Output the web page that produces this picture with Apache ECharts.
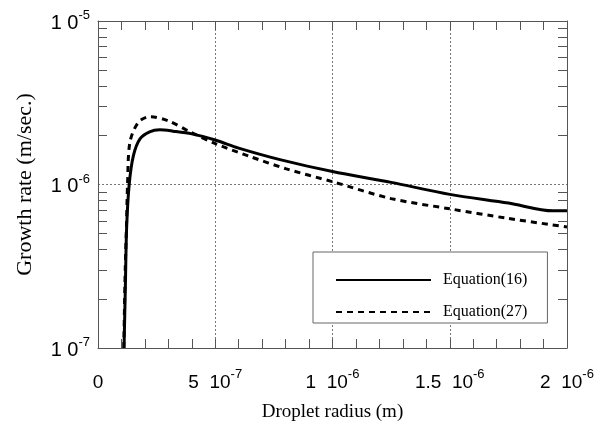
<!DOCTYPE html>
<html>
<head>
<meta charset="utf-8">
<script src="https://cdn.jsdelivr.net/npm/echarts@6/dist/echarts.min.js"></script>
<style>
  html, body { margin: 0; padding: 0; background: #fff; }
  #main { width: 601px; height: 427px; }
</style>
</head>
<body>
<div id="main"></div>
<script>
// droplet radius (m) / growth rate (m/sec.)
const radius16 = [1.11e-7, 1.17e-7, 1.22e-7, 1.33e-7, 1.51e-7, 1.79e-7, 2.2e-7, 2.64e-7, 3.2e-7, 4e-7, 5e-7, 6e-7, 7.76e-7, 1e-6, 1.25e-6, 1.5e-6, 1.75e-6, 1.94e-6, 2e-6];
const rate16 = [1e-7, 2.5e-7, 5.4e-7, 1.0e-6, 1.5e-6, 1.9e-6, 2.1e-6, 2.16e-6, 2.12e-6, 2.04e-6, 1.87e-6, 1.67e-6, 1.42e-6, 1.2e-6, 1.03e-6, 8.7e-7, 7.7e-7, 6.9e-7, 6.9e-7];

const radius27 = [1.1e-7, 1.16e-7, 1.22e-7, 1.26e-7, 1.36e-7, 1.72e-7, 2.22e-7, 3.0e-7, 3.92e-7, 5e-7, 6.5e-7, 8e-7, 1e-6, 1.25e-6, 1.5e-6, 1.75e-6, 2e-6];
const rate27 = [1e-7, 3e-7, 6e-7, 1e-6, 1.81e-6, 2.4e-6, 2.6e-6, 2.45e-6, 2.1e-6, 1.78e-6, 1.48e-6, 1.25e-6, 1.04e-6, 8.2e-7, 7.1e-7, 6.2e-7, 5.5e-7];

const seriesNames = ['Equation(16)', 'Equation(27)'];
const yLabelValues = [1e-7, 1e-6, 1e-5];
const yMinorTicks = [2e-7, 3e-7, 4e-7, 5e-7, 6e-7, 7e-7, 8e-7, 9e-7, 2e-6, 3e-6, 4e-6, 5e-6, 6e-6, 7e-6, 8e-6, 9e-6];

const sans = '"Liberation Sans", Arial, sans-serif';
const serif = '"Liberation Serif", "Times New Roman", serif';

// superscript: bottom padding lifts the exponent above the baseline
function richFor(size) {
  return {
    n: { fontFamily: sans, fontSize: size, color: '#000', verticalAlign: 'bottom' },
    z: { fontFamily: sans, fontSize: size, color: '#000', verticalAlign: 'bottom', padding: [5, 0, 0, 0] },
    s: { fontFamily: sans, fontSize: 13, color: '#000', verticalAlign: 'bottom', padding: [0, 0, 11, 0] }
  };
}

function xLabel(v) {
  if (v === 0) return '{z|0}';
  const e = Math.floor(Math.log10(v) + 1e-9);
  const m = Math.round(v / Math.pow(10, e) * 10) / 10;
  return '{n|' + m + '  10}{s|' + e + '}';
}
function yLabel(v) {
  const e = Math.round(Math.log10(v));
  return '{n|1 0}{s|' + e + '}';
}

const chart = echarts.init(document.getElementById('main'), null, { renderer: 'canvas' });

const gridLine = { show: true, lineStyle: { color: '#777', type: [2, 2], width: 1 } };
const minorY = {
  type: 'log', logBase: 10, min: 1e-7, max: 1e-5,
  axisLine: { show: false }, axisLabel: { show: false }, splitLine: { show: false },
  axisTick: { show: true, inside: true, length: 9, customValues: yMinorTicks, lineStyle: { color: '#555' } }
};

chart.setOption({
  backgroundColor: '#fff',
  animation: false,
  grid: { left: 98, top: 21, right: 34, bottom: 76 },
  legend: {
    orient: 'vertical',
    left: 313, top: 252,
    data: seriesNames,
    itemWidth: 95, itemHeight: 14, itemGap: 16,
    padding: [20, 20, 3, 22],
    backgroundColor: '#fff',
    borderColor: '#666', borderWidth: 1,
    itemStyle: { color: 'transparent', borderWidth: 0, opacity: 0 },
    textStyle: { fontFamily: serif, fontSize: 16, color: '#000', padding: [0, 0, 0, 7] }
  },
  xAxis: [{
    type: 'value', min: 0, max: 2e-6, interval: 5e-7,
    name: 'Droplet radius (m)', nameLocation: 'middle', nameGap: 55,
    nameTextStyle: { fontFamily: serif, fontSize: 19, color: '#000' },
    axisLine: { show: true, lineStyle: { color: '#555', width: 1 } },
    axisTick: { show: true, inside: true, length: 9, lineStyle: { color: '#555' } },
    minorTick: { show: true, splitNumber: 5, length: 9, lineStyle: { color: '#555' } },
    axisLabel: { margin: 20, formatter: xLabel, rich: richFor(19), showMaxLabel: true },
    splitLine: gridLine
  }, {
    type: 'value', min: 0, max: 2e-6, interval: 5e-7, position: 'top',
    axisLine: { show: true, lineStyle: { color: '#555', width: 1 } },
    axisTick: { show: true, inside: true, length: 9, lineStyle: { color: '#555' } },
    minorTick: { show: true, splitNumber: 5, length: 9, lineStyle: { color: '#555' } },
    axisLabel: { show: false }, splitLine: { show: false }
  }],
  yAxis: [{
    type: 'log', logBase: 10, min: 1e-7, max: 1e-5,
    name: 'Growth rate (m/sec.)', nameLocation: 'middle', nameGap: 62,
    nameTextStyle: { fontFamily: serif, fontSize: 22, color: '#000' },
    axisLine: { show: true, lineStyle: { color: '#555', width: 1 } },
    axisTick: { show: false },
    axisLabel: { margin: 8, formatter: yLabel, rich: richFor(20), customValues: yLabelValues },
    splitLine: gridLine
  },
  Object.assign({}, minorY, { position: 'left' }),
  Object.assign({}, minorY, { position: 'right', axisLine: { show: true, lineStyle: { color: '#555', width: 1 } } })
  ],
  series: [{
    name: seriesNames[0], type: 'line', symbol: 'none', smooth: 0.3,
    xAxisIndex: 0, yAxisIndex: 0,
    data: radius16.map((r, i) => [r, rate16[i]]),
    lineStyle: { color: '#000', width: 3 }
  }, {
    name: seriesNames[1], type: 'line', symbol: 'none', smooth: 0.3,
    xAxisIndex: 0, yAxisIndex: 0,
    data: radius27.map((r, i) => [r, rate27[i]]),
    lineStyle: { color: '#000', width: 3, type: [6, 5] }
  }]
});
</script>
</body>
</html>
